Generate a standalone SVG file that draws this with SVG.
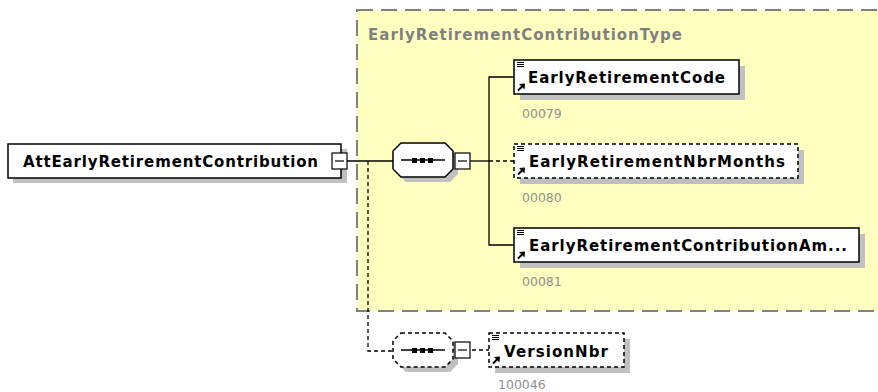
<svg xmlns="http://www.w3.org/2000/svg" width="878" height="392" viewBox="0 0 878 392">
<style>
.bg{fill:#ffffff}
.type{fill:#ffffc0;stroke:#808080;stroke-width:2;stroke-dasharray:16 8}
.shadow{fill:#c0c0c0;stroke:none}
.box{fill:#ffffff;stroke:#000000;stroke-width:1.5}
.dbox{fill:#ffffff;stroke:#000000;stroke-width:1.5;stroke-dasharray:4 3}
.name{font-family:"DejaVu Sans","Liberation Sans",sans-serif;font-weight:bold;font-size:15px;fill:#000000}
.title{font-family:"DejaVu Sans","Liberation Sans",sans-serif;font-weight:bold;font-size:15px;fill:#808080}
.id{font-family:"DejaVu Sans","Liberation Sans",sans-serif;font-size:12.5px;fill:#909090}
.ln{stroke:#000000;stroke-width:1.3;fill:none}
.dln{stroke:#000000;stroke-width:1.3;fill:none;stroke-dasharray:4 3}
.icon{stroke:#000000;stroke-width:1;fill:none}
</style>
<defs>
<g id="ico">
<path class="icon" d="M3 2.5h7M3 4.5h7M3 6.5h7"/>
<path d="M4 30.5l5.5-5.5" stroke="#000" stroke-width="2"/>
<path d="M11 23.5l-6 0.5l5.5 5.5z" fill="#000"/>
</g>
<g id="minus">
<rect x="0" y="0" width="15" height="16" fill="#ffffff" stroke="#000" stroke-width="1.2"/>
<line x1="3" y1="8" x2="12" y2="8" stroke="#000" stroke-width="1.2"/>
</g>
</defs>
<rect class="bg" x="0" y="0" width="878" height="392"/>
<g id="typeBox">
<rect class="type" x="357" y="10" width="540" height="301"/>
<text class="title" x="368" y="40" textLength="314">EarlyRetirementContributionType</text>
</g>
<g id="connectors">
<line class="ln" x1="347" y1="161" x2="393" y2="161"/>
<polyline class="dln" points="368,161 368,351 393,351"/>
<line class="ln" x1="470" y1="161" x2="489" y2="161"/>
<polyline class="ln" points="514,77 489,77 489,245 514,245"/>
<line class="dln" x1="489" y1="161" x2="514" y2="161"/>
<line class="dln" x1="472" y1="350" x2="489" y2="350"/>
</g>
<g id="AttEarlyRetirementContribution">
<rect class="shadow" x="13" y="149" width="334" height="34"/>
<rect class="box" x="8" y="144" width="333" height="34"/>
<text class="name" x="23" y="167" textLength="295">AttEarlyRetirementContribution</text>
<use href="#minus" x="332" y="153"/>
</g>
<g id="sequence1">
<polygon class="shadow" points="406,148 450,148 458,156 458,174 450,182 406,182 398,174 398,156"/>
<polygon class="box" points="401,143 445,143 453,151 453,169 445,177 401,177 393,169 393,151"/>
<line class="ln" x1="401" y1="160" x2="445" y2="160"/>
<rect x="412" y="158" width="5" height="5" fill="#000"/>
<rect x="420" y="158" width="5" height="5" fill="#000"/>
<rect x="428" y="158" width="5" height="5" fill="#000"/>
<use href="#minus" x="455" y="153"/>
</g>
<g id="EarlyRetirementCode">
<rect class="shadow" x="520" y="66" width="225" height="34"/>
<rect class="box" x="514" y="60" width="225" height="34"/>
<use href="#ico" x="514" y="60"/>
<text class="name" x="528" y="83" textLength="197">EarlyRetirementCode</text>
<text class="id" x="522" y="118">00079</text>
</g>
<g id="EarlyRetirementNbrMonths">
<rect class="shadow" x="520" y="150" width="284" height="34"/>
<rect class="dbox" x="514" y="144" width="284" height="34"/>
<use href="#ico" x="514" y="144"/>
<text class="name" x="529" y="167" textLength="256">EarlyRetirementNbrMonths</text>
<text class="id" x="522" y="202">00080</text>
</g>
<g id="EarlyRetirementContributionAmount">
<rect class="shadow" x="520" y="234" width="345" height="34"/>
<rect class="box" x="514" y="228" width="345" height="34"/>
<use href="#ico" x="514" y="228"/>
<text class="name" x="529" y="251" textLength="318">EarlyRetirementContributionAm...</text>
<text class="id" x="522" y="286">00081</text>
</g>
<g id="sequence2">
<polygon class="shadow" points="406,338 450,338 458,346 458,364 450,372 406,372 398,364 398,346"/>
<polygon class="dbox" points="401,333 445,333 453,341 453,359 445,367 401,367 393,359 393,341"/>
<line class="ln" x1="401" y1="350" x2="445" y2="350"/>
<rect x="412" y="348" width="5" height="5" fill="#000"/>
<rect x="420" y="348" width="5" height="5" fill="#000"/>
<rect x="428" y="348" width="5" height="5" fill="#000"/>
<use href="#minus" x="455" y="342"/>
</g>
<g id="VersionNbr">
<rect class="shadow" x="495" y="339" width="135" height="34"/>
<rect class="dbox" x="489" y="333" width="135" height="34"/>
<use href="#ico" x="489" y="333"/>
<text class="name" x="504" y="357" textLength="104">VersionNbr</text>
<text class="id" x="498" y="389">100046</text>
</g>
</svg>
